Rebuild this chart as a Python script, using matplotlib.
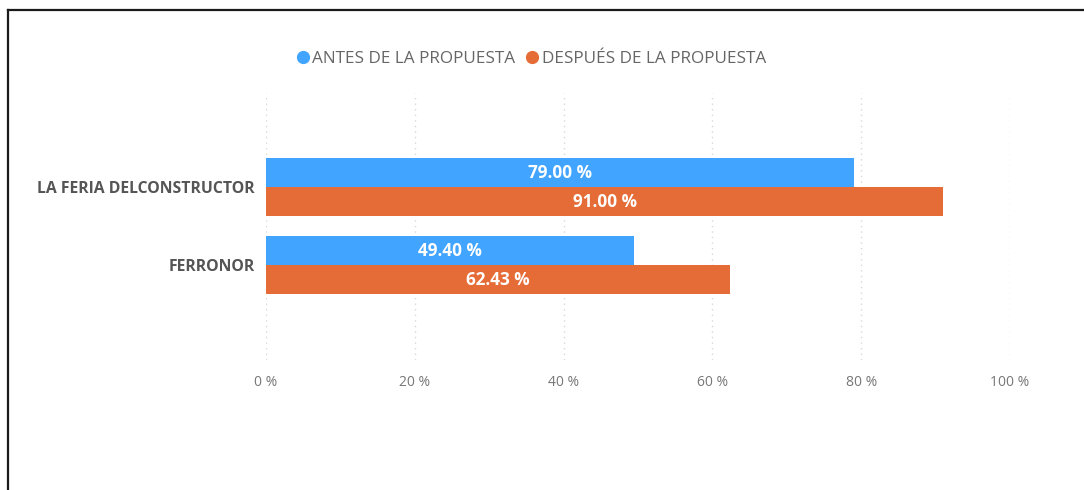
import matplotlib.pyplot as plt
from matplotlib.lines import Line2D

# data
categories = ["LA FERIA DELCONSTRUCTOR", "FERRONOR"]
antes = [79.00, 49.40]
despues = [91.00, 62.43]
series_names = ["ANTES DE LA PROPUESTA", "DESPUÉS DE LA PROPUESTA"]
x_ticks = [0, 20, 40, 60, 80, 100]

BLUE = "#41A4FF"
ORANGE = "#E66C37"
FONT = ["Open Sans", "DejaVu Sans"]

plt.rcParams['font.family'] = FONT

fig = plt.figure(figsize=(10.84, 4.9), dpi=100)
fig.patch.set_facecolor("white")
ax = fig.add_axes([0.2454, 0.2653, 0.6863, 0.5449])

h = 0.372
ypos = list(range(len(categories)))
ax.barh([y - h / 2 for y in ypos], antes, height=h, color=BLUE, zorder=2)
ax.barh([y + h / 2 for y in ypos], despues, height=h, color=ORANGE, zorder=2)

# value labels in the middle of each bar
for y, a, d in zip(ypos, antes, despues):
    ax.text(a / 2, y - h / 2, f"{a:.2f} %", ha="center", va="center",
            color="white", fontsize=12.3, fontweight="bold", zorder=3)
    ax.text(d / 2, y + h / 2, f"{d:.2f} %", ha="center", va="center",
            color="white", fontsize=12.3, fontweight="bold", zorder=3)

ax.set_xlim(0, 100)
ax.set_ylim(2.21, -1.205)
ax.set_xticks(x_ticks)
ax.set_xticklabels([f"{t} %" for t in x_ticks], color="#777777", fontsize=10)
ax.set_yticks(ypos)
ax.set_yticklabels(categories, color="#555555", fontsize=11.3, fontweight="bold")
ax.tick_params(length=0)
ax.tick_params(axis="x", pad=11)
ax.tick_params(axis="y", pad=8)
ax.grid(axis="x", color="#D8D8D8", linestyle=(0, (1, 3)), linewidth=1, zorder=0)
for spine in ax.spines.values():
    spine.set_visible(False)

# legend
handles = [Line2D([], [], marker="o", linestyle="", markersize=8.5, color=BLUE),
           Line2D([], [], marker="o", linestyle="", markersize=8.5, color=ORANGE)]
leg = fig.legend(handles, series_names, loc="center", ncol=2, frameon=False,
                 bbox_to_anchor=(531 / 1084, 1 - 59 / 490), handletextpad=0.15,
                 columnspacing=0.6, handlelength=0.8, fontsize=12.3)
for t in leg.get_texts():
    t.set_color("#666666")

# screenshot border (top and left only)
fig.add_artist(Line2D([0.0078, 1.0], [0.9806, 0.9806], color="#1a1a1a", linewidth=1.6))
fig.add_artist(Line2D([0.0078, 0.0078], [0.0, 0.9806], color="#1a1a1a", linewidth=1.6))

fig.savefig("out.png", dpi=100)
